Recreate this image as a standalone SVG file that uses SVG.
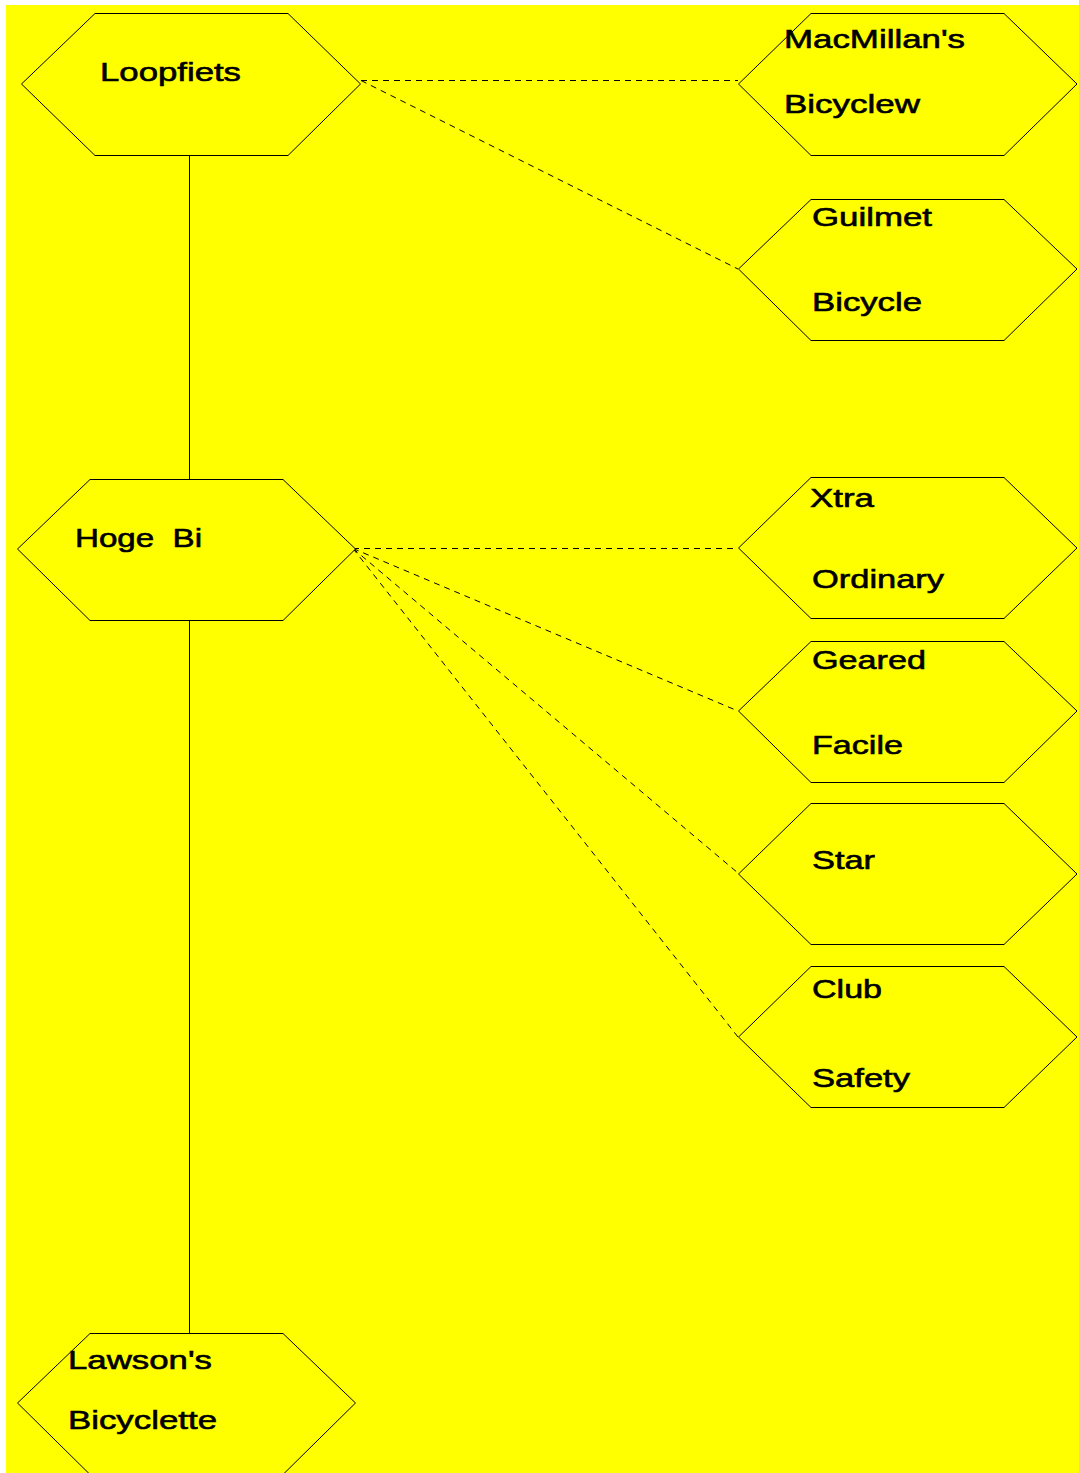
<svg xmlns="http://www.w3.org/2000/svg" width="1079" height="1473" viewBox="0 0 1079 1473">
  <style>
    .hex { fill: #ffff00; stroke: #000; stroke-width: 1; }
    .lbl { font-family: "Liberation Sans", Arial, sans-serif; font-size: 26px; fill: #000; stroke: #000; stroke-width: 0.6; }
    .solid { stroke: #000; stroke-width: 1; fill: none; }
    .dash { stroke: #000; stroke-width: 1; fill: none; stroke-dasharray: 6 5; }
  </style>

  <rect x="0" y="0" width="1079" height="1473" fill="#ffffff"/>
  <rect x="6" y="5" width="1073" height="1468" fill="#ffff00"/>

  <g id="connectors">
    <line class="solid" x1="189.5" y1="155" x2="189.5" y2="479"/>
    <line class="solid" x1="189.5" y1="620" x2="189.5" y2="1333"/>
    <line class="dash" x1="361" y1="80.5" x2="738" y2="80.5"/>
    <line class="dash" x1="361" y1="80.5" x2="738" y2="269"/>
    <line class="dash" x1="353" y1="548.5" x2="738" y2="548.5"/>
    <line class="dash" x1="353" y1="548.5" x2="738" y2="711"/>
    <line class="dash" x1="353" y1="548.5" x2="738" y2="873"/>
    <line class="dash" x1="353" y1="548.5" x2="738" y2="1037"/>
  </g>

  <g id="node-loopfiets">
    <polygon class="hex" points="21.5,84 95,13.5 288,13.5 360.5,84 288,155.5 95,155.5"/>
    <text class="lbl" x="100" y="81" textLength="141" lengthAdjust="spacingAndGlyphs">Loopfiets</text>
  </g>

  <g id="node-macmillan">
    <polygon class="hex" points="738.5,84 811,13.5 1004,13.5 1077,84 1004,155.5 811,155.5"/>
    <text class="lbl" x="784" y="48" textLength="181" lengthAdjust="spacingAndGlyphs">MacMillan's</text>
    <text class="lbl" x="784" y="113" textLength="136" lengthAdjust="spacingAndGlyphs">Bicyclew</text>
  </g>

  <g id="node-guilmet">
    <polygon class="hex" points="738.5,269 811,199.5 1004,199.5 1077,269 1004,340.5 811,340.5"/>
    <text class="lbl" x="812" y="226" textLength="120" lengthAdjust="spacingAndGlyphs">Guilmet</text>
    <text class="lbl" x="812" y="311" textLength="110" lengthAdjust="spacingAndGlyphs">Bicycle</text>
  </g>

  <g id="node-hoge-bi">
    <polygon class="hex" points="17.5,549 90,479.5 283,479.5 355.5,549 283,620.5 90,620.5"/>
    <text class="lbl" x="75" y="547" textLength="127" lengthAdjust="spacingAndGlyphs" xml:space="preserve">Hoge  Bi</text>
  </g>

  <g id="node-lawson">
    <polygon class="hex" points="17.5,1403 90,1333.5 283,1333.5 355.5,1403 283,1474.5 90,1474.5"/>
    <text class="lbl" x="68" y="1369" textLength="144" lengthAdjust="spacingAndGlyphs">Lawson's</text>
    <text class="lbl" x="68" y="1429" textLength="149" lengthAdjust="spacingAndGlyphs">Bicyclette</text>
  </g>

  <g id="node-xtra-ordinary">
    <polygon class="hex" points="738.5,548 811,477.5 1004,477.5 1077,548 1004,618.5 811,618.5"/>
    <text class="lbl" x="810" y="507" textLength="64" lengthAdjust="spacingAndGlyphs">Xtra</text>
    <text class="lbl" x="812" y="588" textLength="132" lengthAdjust="spacingAndGlyphs">Ordinary</text>
  </g>

  <g id="node-geared-facile">
    <polygon class="hex" points="738.5,711 811,641.5 1004,641.5 1077,711 1004,782.5 811,782.5"/>
    <text class="lbl" x="812" y="669" textLength="114" lengthAdjust="spacingAndGlyphs">Geared</text>
    <text class="lbl" x="812" y="754" textLength="91" lengthAdjust="spacingAndGlyphs">Facile</text>
  </g>

  <g id="node-star">
    <polygon class="hex" points="738.5,874 811,803.5 1004,803.5 1077,874 1004,944.5 811,944.5"/>
    <text class="lbl" x="812" y="869" textLength="63" lengthAdjust="spacingAndGlyphs">Star</text>
  </g>

  <g id="node-club-safety">
    <polygon class="hex" points="738.5,1037 811,966.5 1004,966.5 1077,1037 1004,1107.5 811,1107.5"/>
    <text class="lbl" x="812" y="998" textLength="70" lengthAdjust="spacingAndGlyphs">Club</text>
    <text class="lbl" x="812" y="1087" textLength="98" lengthAdjust="spacingAndGlyphs">Safety</text>
  </g>
</svg>
